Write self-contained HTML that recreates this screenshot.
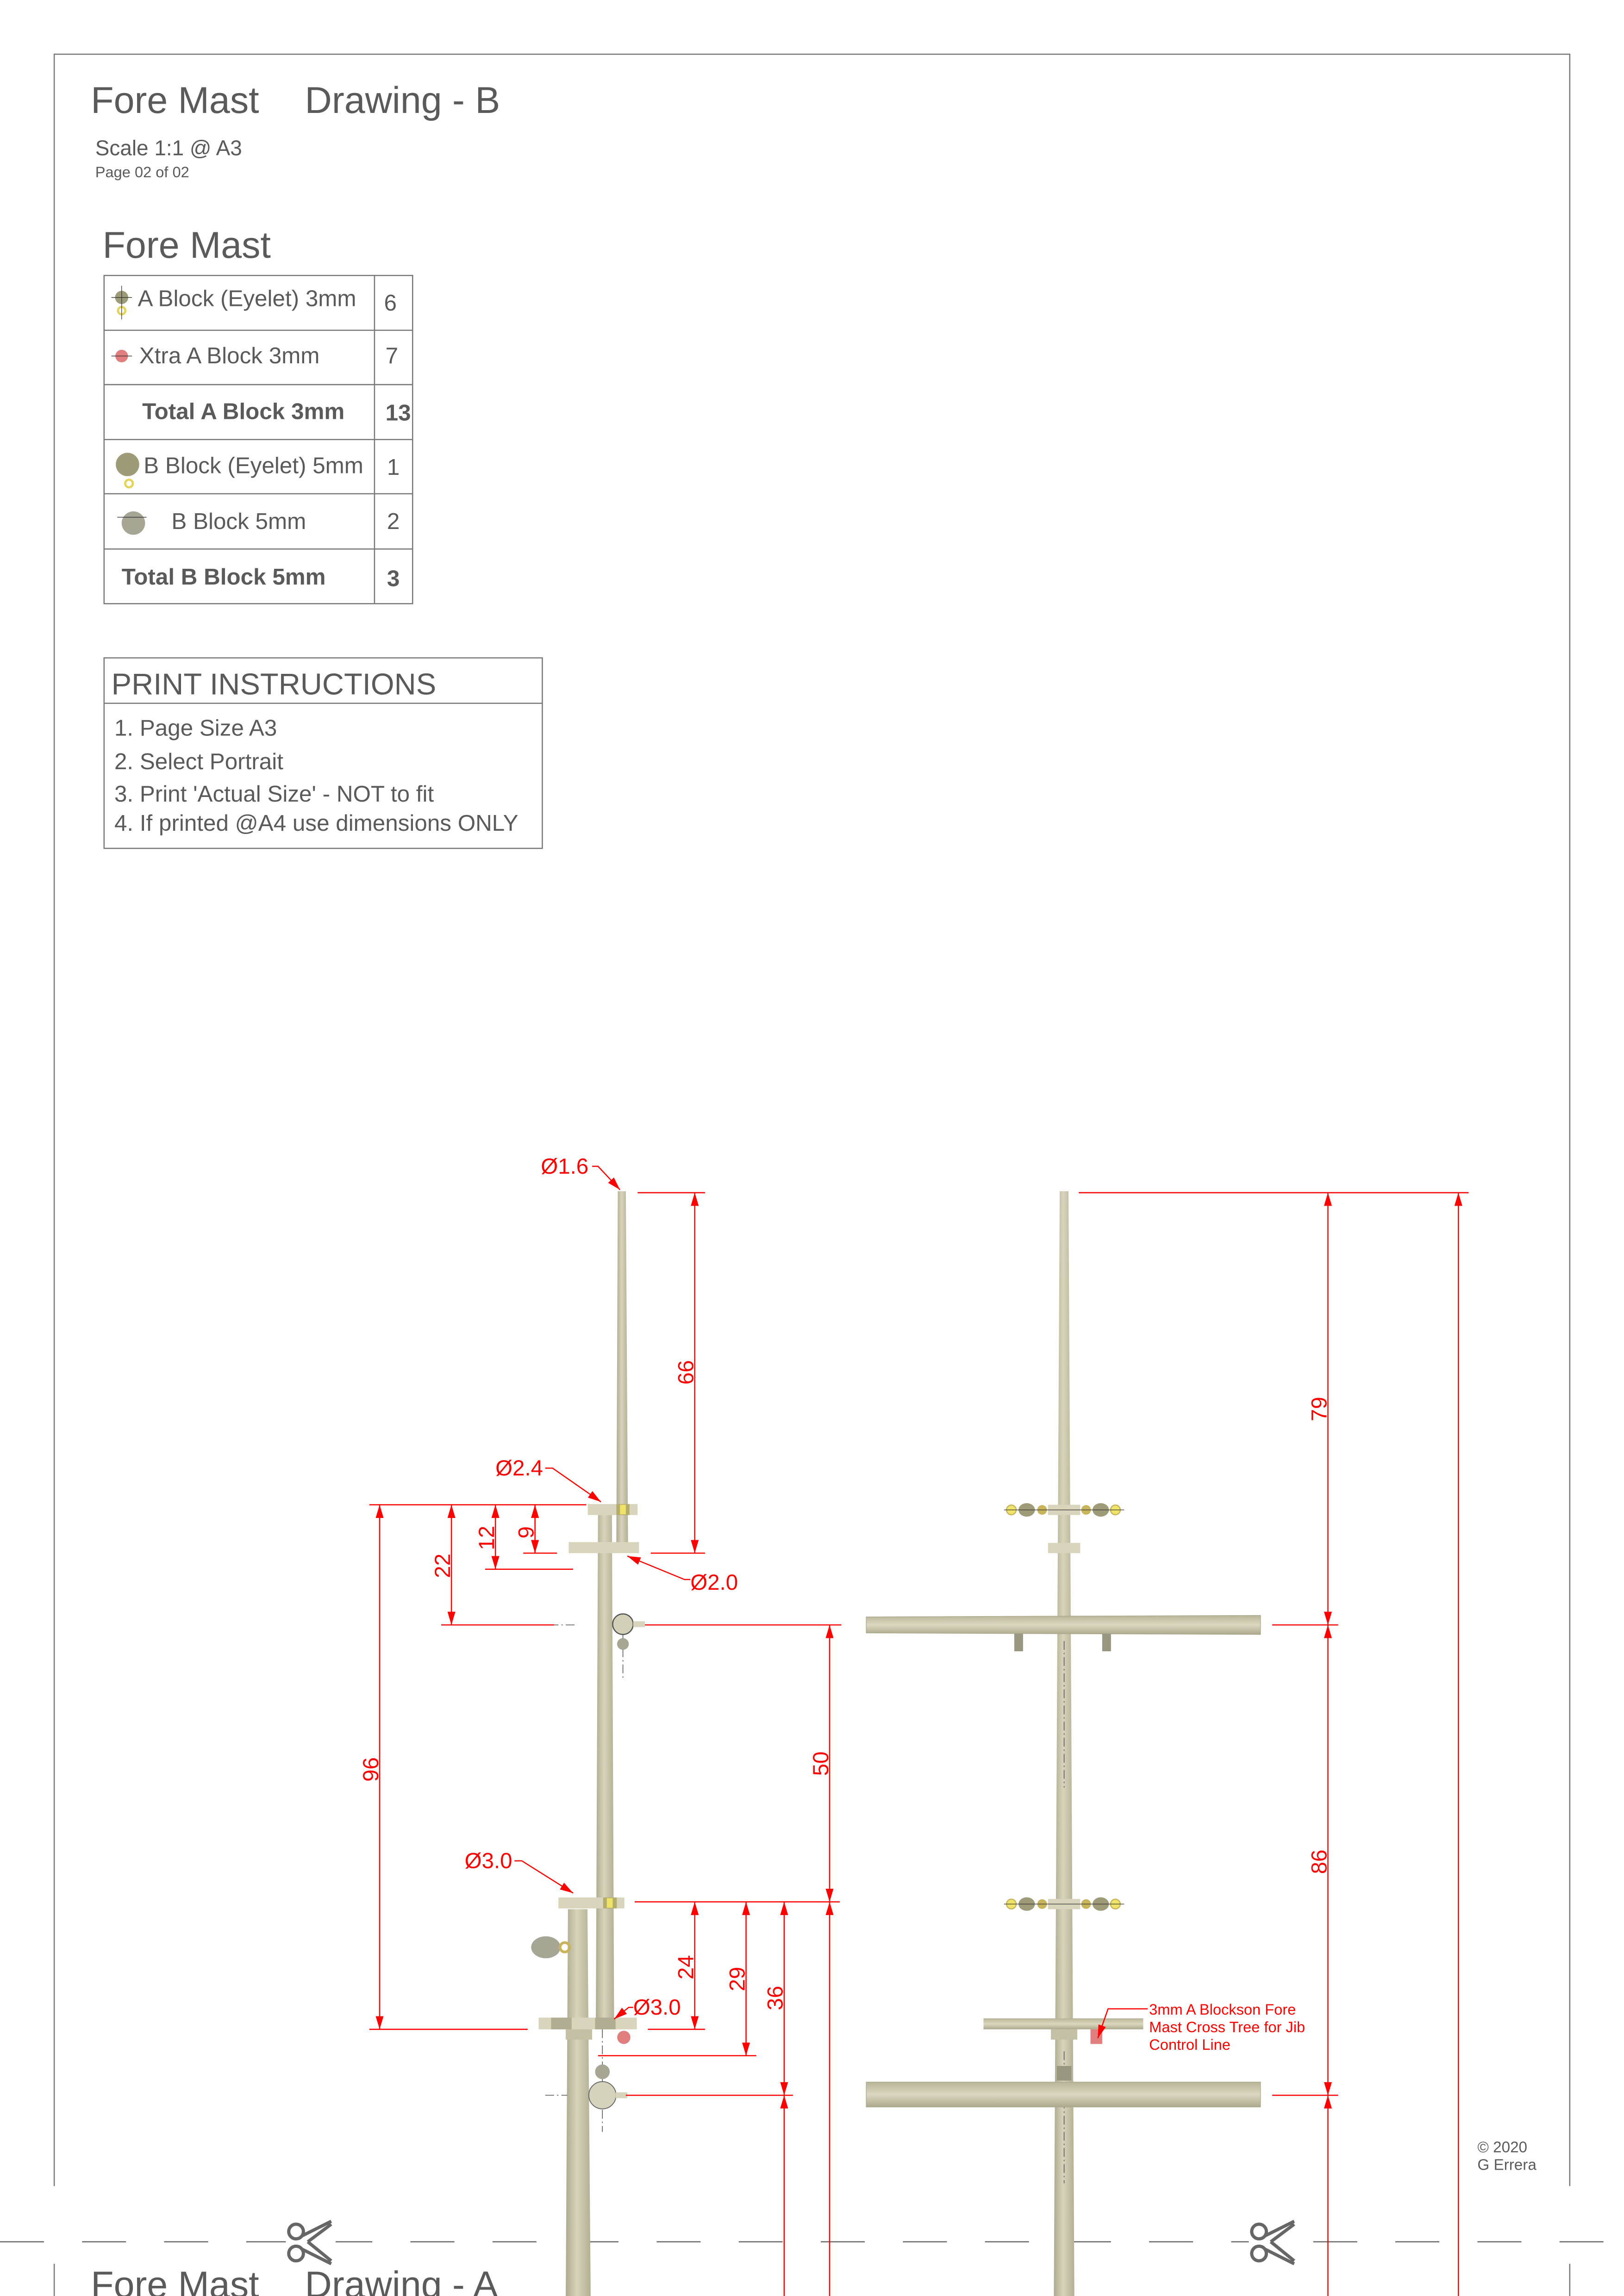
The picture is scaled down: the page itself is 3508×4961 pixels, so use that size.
<!DOCTYPE html>
<html><head><meta charset="utf-8"><style>
html,body{margin:0;padding:0;background:#fff;}
svg{display:block;}
text{font-family:"Liberation Sans",sans-serif;}
</style></head><body>
<svg width="3508" height="4961" viewBox="0 0 1108 1567" preserveAspectRatio="none" xmlns="http://www.w3.org/2000/svg">
<defs>
<linearGradient id="pv" x1="0" x2="1" y1="0" y2="0"><stop offset="0" stop-color="#aeaa8e"/><stop offset="0.45" stop-color="#d8d4bc"/><stop offset="1" stop-color="#b3af94"/></linearGradient>
<linearGradient id="ph" x1="0" x2="0" y1="0" y2="1"><stop offset="0" stop-color="#b8b498"/><stop offset="0.5" stop-color="#dcd8c0"/><stop offset="1" stop-color="#aca88c"/></linearGradient>
<marker id="ar" viewBox="0 0 10 10" refX="10" refY="5" markerWidth="9" markerHeight="9" markerUnits="userSpaceOnUse" orient="auto-start-reverse"><path d="M0,2 L10,5 L0,8z" fill="#f00"/></marker>
</defs>
<g stroke="#777" stroke-width="0.8" fill="none">
<path d="M37,1492 V37 H1071 V1492"/>
<path d="M37,1545 V1567 M1071,1545 V1567"/>
</g>
<line x1="0" y1="1530" x2="1108" y2="1530" stroke="#666" stroke-width="0.8" stroke-dasharray="30,26"/>
<g fill="#fff"><rect x="195" y="1515" width="34" height="30"/><rect x="852" y="1515" width="34" height="30"/></g>
<g stroke="#666" stroke-width="2.2" fill="none">
<circle cx="202" cy="1523" r="5"/><circle cx="202" cy="1538" r="5"/><path d="M206,1526 L226,1516 M206,1535 L226,1545 M210,1530 L226,1518 M210,1530 L226,1543"/>
<circle cx="859" cy="1523" r="5"/><circle cx="859" cy="1538" r="5"/><path d="M863,1526 L883,1516 M863,1535 L883,1545 M867,1530 L883,1518 M867,1530 L883,1543"/>
</g>
<g fill="#5a5a5a">
<text x="62" y="77" font-size="25.5">Fore Mast</text>
<text x="208" y="77" font-size="25.5">Drawing - B</text>
<text x="65" y="106" font-size="14.5">Scale 1:1 @ A3</text>
<text x="65" y="121" font-size="10.3">Page 02 of 02</text>
<text x="70" y="176" font-size="25.5">Fore Mast</text>
<text x="62" y="1568" font-size="25.5">Fore Mast</text>
<text x="208" y="1568" font-size="25.5">Drawing - A</text>
<text x="1008" y="1469" font-size="10.5">© 2020</text>
<text x="1008" y="1481" font-size="10.5">G Errera</text>
</g>
<g stroke="#777" stroke-width="0.8" fill="none">
<rect x="71" y="188" width="210.5" height="224"/>
<line x1="255.5" y1="188" x2="255.5" y2="412"/>
<path d="M71,225.4 H281.5 M71,262.5 H281.5 M71,300 H281.5 M71,337 H281.5 M71,374.7 H281.5"/>
<rect x="71" y="449" width="299" height="130"/>
<line x1="71" y1="480" x2="370" y2="480"/>
</g>
<g fill="#5a5a5a" font-size="15.6">
<text x="94" y="209">A Block (Eyelet) 3mm</text><text x="262" y="212">6</text>
<text x="95" y="248">Xtra A Block 3mm</text><text x="263" y="248">7</text>
<text x="97" y="286" font-weight="bold">Total A Block 3mm</text><text x="263" y="287" font-weight="bold">13</text>
<text x="98" y="323">B Block (Eyelet) 5mm</text><text x="264" y="324">1</text>
<text x="117" y="361">B Block 5mm</text><text x="264" y="361">2</text>
<text x="83" y="399" font-weight="bold">Total B Block 5mm</text><text x="264" y="400" font-weight="bold">3</text>
<text x="76" y="474" font-size="20.6">PRINT INSTRUCTIONS</text>
<text x="78" y="502">1. Page Size A3</text>
<text x="78" y="525">2. Select Portrait</text>
<text x="78" y="547">3. Print 'Actual Size' - NOT to fit</text>
<text x="78" y="567">4. If printed @A4 use dimensions ONLY</text>
</g>
<circle cx="83" cy="203" r="4.5" fill="#9e9b78"/><circle cx="83" cy="212" r="2.5" fill="none" stroke="#e3d55a" stroke-width="1.5"/>
<path d="M76,203 H90 M83,195 V218" stroke="#333" stroke-width="0.4"/>
<circle cx="83" cy="243" r="4.3" fill="#e07d7d"/><path d="M76,243 H90" stroke="#333" stroke-width="0.4"/>
<circle cx="87" cy="317" r="8" fill="#9e9b78"/><circle cx="88" cy="330" r="2.6" fill="none" stroke="#e3d55a" stroke-width="1.5"/>
<circle cx="91" cy="357" r="8" fill="#a7a594"/><path d="M80,353 H100" stroke="#333" stroke-width="0.4"/>
<polygon points="387.5,1303 400.8,1303 403,1567 386,1567" fill="url(#pv)"/>
<polygon points="408,1034 417.5,1034 419,1385 406.5,1385" fill="url(#pv)"/>
<polygon points="421.5,813 427,813 428.5,1058 420.5,1058" fill="url(#pv)"/>
<path d="M425,1114 V1145 M411,1385 V1455" stroke="#555" stroke-width="0.5" stroke-dasharray="6,2,1,2"/>
<rect x="401" y="1026.5" width="34" height="7.5" fill="#d9d5bd"/>
<rect x="420.5" y="1026.5" width="9" height="7.5" fill="#b4ad6a"/><rect x="423" y="1027" width="4" height="6.5" fill="#efe36a"/>
<rect x="388" y="1052.5" width="48" height="7.5" fill="#d9d5bd"/>
<circle cx="425" cy="1108.5" r="7" fill="#d3d0b8" stroke="#555" stroke-width="0.8"/>
<rect x="432" y="1106.5" width="8" height="4" fill="#d8d4bc"/>
<circle cx="425" cy="1122" r="4" fill="#a7a594"/>
<rect x="381" y="1295" width="45" height="7.5" fill="#d9d5bd"/>
<rect x="411.5" y="1295" width="9.3" height="7.5" fill="#b4ad6a"/><rect x="414" y="1295.5" width="4" height="6.5" fill="#efe36a"/>
<ellipse cx="372.4" cy="1329" rx="10" ry="7.5" fill="#a7a594"/>
<circle cx="385.3" cy="1329" r="3.2" fill="none" stroke="#c8b45a" stroke-width="1.8"/>
<rect x="367.5" y="1377" width="67" height="8" fill="#d9d5bd"/>
<rect x="376" y="1377" width="14" height="8" fill="#b1ad92"/><rect x="406" y="1377" width="14" height="8" fill="#b1ad92"/>
<rect x="386" y="1385" width="18" height="7" fill="#c4c0a6"/>
<circle cx="425.6" cy="1390.5" r="4.5" fill="#e07d7d"/>
<circle cx="411" cy="1414" r="5" fill="#a7a594"/>
<ellipse cx="411" cy="1430" rx="9.3" ry="9.3" fill="#d6d3bc" stroke="#666" stroke-width="0.6"/>
<rect x="420" y="1428" width="8" height="4" fill="#d8d4bc"/>
<path d="M372,1430 H387 M375,1109 H392" stroke="#555" stroke-width="0.5" stroke-dasharray="6,2,1,2"/>
<g stroke="#f00" stroke-width="0.8" fill="none">
<path d="M435,814 H481 M252,1027 H400 M357,1060 H380 M444,1060 H481 M331,1071 H391 M301,1109 H378 M440,1109 H574 M433,1298 H573 M252,1385 H360 M442,1385 H481 M408,1403 H516 M427,1430 H541"/>
<line x1="474" y1="814" x2="474" y2="1060" marker-start="url(#ar)" marker-end="url(#ar)"/>
<line x1="259" y1="1027" x2="259" y2="1385" marker-start="url(#ar)" marker-end="url(#ar)"/>
<line x1="308" y1="1027" x2="308" y2="1109" marker-start="url(#ar)" marker-end="url(#ar)"/>
<line x1="338" y1="1027" x2="338" y2="1071" marker-start="url(#ar)" marker-end="url(#ar)"/>
<line x1="365" y1="1027" x2="365" y2="1060" marker-start="url(#ar)" marker-end="url(#ar)"/>
<line x1="566" y1="1109" x2="566" y2="1298" marker-start="url(#ar)" marker-end="url(#ar)"/>
<line x1="566" y1="1567" x2="566" y2="1298" marker-end="url(#ar)"/>
<line x1="474" y1="1298" x2="474" y2="1385" marker-start="url(#ar)" marker-end="url(#ar)"/>
<line x1="509" y1="1298" x2="509" y2="1403" marker-start="url(#ar)" marker-end="url(#ar)"/>
<line x1="535" y1="1298" x2="535" y2="1430" marker-start="url(#ar)" marker-end="url(#ar)"/>
<line x1="535" y1="1567" x2="535" y2="1430" marker-end="url(#ar)"/>
<polyline points="404,796 408,796 423,812" marker-end="url(#ar)"/>
<polyline points="372,1002 377,1002 410,1025" marker-end="url(#ar)"/>
<polyline points="471,1078 467,1078 428,1062" marker-end="url(#ar)"/>
<polyline points="351,1270 356,1270 391,1292" marker-end="url(#ar)"/>
<polyline points="432,1370 429,1370 419,1378" marker-end="url(#ar)"/>
</g>
<g fill="#f00" font-size="15">
<text x="369" y="801">Ø1.6</text>
<text x="338" y="1007">Ø2.4</text>
<text x="471" y="1085">Ø2.0</text>
<text x="317" y="1275">Ø3.0</text>
<text x="432" y="1375">Ø3.0</text>
<text transform="translate(473,945) rotate(-90)">66</text>
<text transform="translate(258,1216) rotate(-90)">96</text>
<text transform="translate(307,1077) rotate(-90)">22</text>
<text transform="translate(337,1058) rotate(-90)">12</text>
<text transform="translate(364,1050) rotate(-90)">9</text>
<text transform="translate(565,1212) rotate(-90)">50</text>
<text transform="translate(473,1351) rotate(-90)">24</text>
<text transform="translate(508,1359) rotate(-90)">29</text>
<text transform="translate(534,1372) rotate(-90)">36</text>
</g>
<polygon points="723,813 729,813 733,1567 719,1567" fill="url(#pv)"/>
<path d="M726,1120 V1220 M726,1400 V1490" stroke="#555" stroke-width="0.5" stroke-dasharray="6,2,1,2"/>
<polygon points="591,1103.5 860,1102.5 860,1115.5 591,1114.5" fill="url(#ph)" stroke="#aaa68a" stroke-width="0.4"/>
<rect x="692" y="1115" width="6" height="12" fill="#9a9780"/><rect x="752" y="1115" width="6" height="12" fill="#9a9780"/>
<polygon points="591,1421 860,1421 860,1438 591,1438" fill="url(#ph)" stroke="#aaa68a" stroke-width="0.4"/>
<rect x="671" y="1377.5" width="109" height="7.5" fill="url(#ph)"/>
<rect x="717" y="1385" width="18" height="7" fill="#c4c0a6"/>
<rect x="721" y="1410" width="10" height="10" fill="#9a9780"/>
<rect x="744" y="1385" width="8" height="10" fill="#e07d7d"/>
<g>
<rect x="715" y="1027" width="22" height="7" fill="#d9d5bd"/>
<rect x="715" y="1053" width="22" height="7" fill="#d9d5bd"/>
<rect x="715" y="1296" width="22" height="7" fill="#d9d5bd"/>
</g>
<g id="blk">
<circle cx="690" cy="1030.5" r="3.3" fill="#efe36a" stroke="#c8b45a" stroke-width="0.8"/>
<ellipse cx="700.5" cy="1030.5" rx="5.6" ry="4.6" fill="#9e9b78"/>
<circle cx="711" cy="1030.5" r="3.3" fill="#c8b45a"/>
<circle cx="741" cy="1030.5" r="3.3" fill="#c8b45a"/>
<ellipse cx="751" cy="1030.5" rx="5.6" ry="4.6" fill="#9e9b78"/>
<circle cx="761" cy="1030.5" r="3.3" fill="#efe36a" stroke="#c8b45a" stroke-width="0.8"/>
<path d="M685,1030.5 H767" stroke="#333" stroke-width="0.4"/>
</g>
<use href="#blk" transform="translate(0,269)"/>
<g stroke="#f00" stroke-width="0.8" fill="none">
<path d="M736,814 H1002 M868,1109 H913 M868,1430 H913"/>
<line x1="906" y1="814" x2="906" y2="1109" marker-start="url(#ar)" marker-end="url(#ar)"/>
<line x1="906" y1="1109" x2="906" y2="1430" marker-start="url(#ar)" marker-end="url(#ar)"/>
<line x1="906" y1="1567" x2="906" y2="1430" marker-end="url(#ar)"/>
<line x1="995" y1="1567" x2="995" y2="814" marker-end="url(#ar)"/>
<polyline points="783,1371 756,1371 749,1391" marker-end="url(#ar)"/>
</g>
<g fill="#f00">
<text transform="translate(905,970) rotate(-90)" font-size="15">79</text>
<text transform="translate(905,1279) rotate(-90)" font-size="15">86</text>
<text x="784" y="1375" font-size="10.3">3mm A Blockson Fore</text>
<text x="784" y="1387" font-size="10.3">Mast Cross Tree for Jib</text>
<text x="784" y="1399" font-size="10.3">Control Line</text>
</g>
</svg>
</body></html>
